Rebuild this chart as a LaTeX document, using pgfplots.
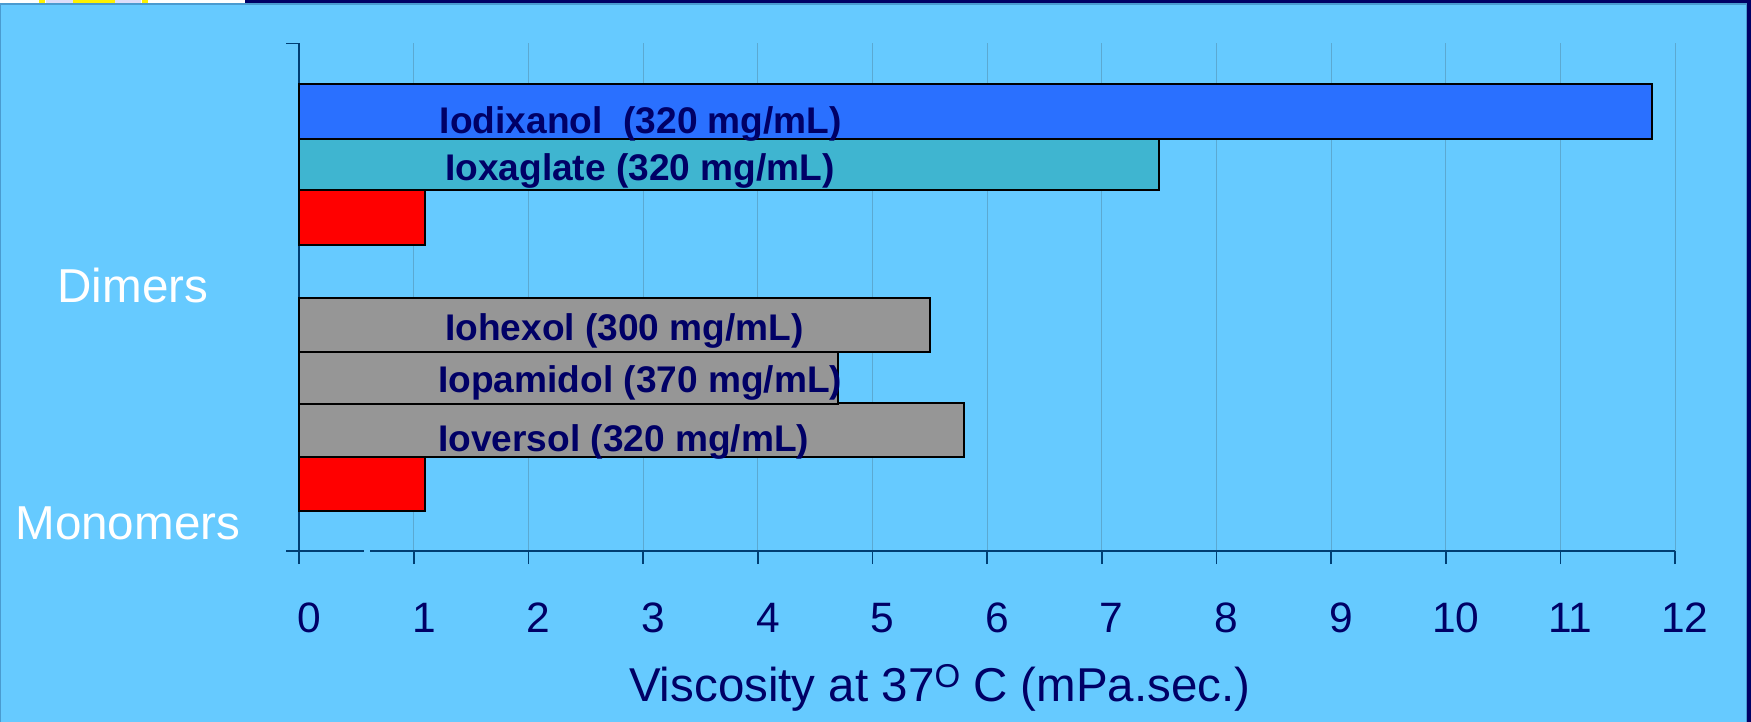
\documentclass[border=0pt]{standalone}
\usepackage{pgfplots}
\usepackage{fontspec}
\pgfplotsset{compat=1.18}
\setmainfont{Liberation Sans}
\definecolor{panel}{HTML}{66CAFF}
\definecolor{navy}{HTML}{000066}
\definecolor{axisline}{HTML}{003E73}
\definecolor{gridc}{HTML}{5BA9D2}
\definecolor{edge}{HTML}{4A9BD0}
\definecolor{iodix}{HTML}{2A70FF}
\definecolor{ioxa}{HTML}{3FB5D0}
\definecolor{monog}{HTML}{969696}
\definecolor{lavender}{HTML}{DDDDFA}
\newcommand{\sized}[1]{\fontsize{#1}{#1}\selectfont}
\begin{document}
\begin{tikzpicture}[x=1pt,y=1pt]
% slide panel and its top band
\fill[panel] (0,0) rectangle (1751,723);
\fill[navy] (0,719.5) rectangle (1751,723);
\fill[navy] (1747,0) rectangle (1751,723);
\draw[edge,line width=1.2pt] (0.6,0) -- (0.6,719) -- (1746.4,719) -- (1746.4,0);
% lower edge of the logo above the panel
\fill[white] (0,719.5) rectangle (245,723);
\fill[lavender] (46,719.5) rectangle (141,723);
\fill[yellow] (73,719.5) rectangle (115,723);
\fill[yellow] (39,719.5) rectangle (45,723);
\fill[yellow] (142,719.5) rectangle (148,723);
\begin{axis}[
  at={(299.3pt,172pt)}, anchor=origin,
  scale only axis, width=1375.7pt, height=507.5pt,
  xmin=0, xmax=12, ymin=0, ymax=507.5,
  clip=false,
  axis x line=bottom, axis y line=left,
  axis line style={axisline,line width=1.6pt,-},
  xtick={0,...,12},
  xmajorgrids,
  x grid style={gridc,line width=1pt},
  major tick style={axisline,line width=1.6pt},
  major tick length=13pt,
  tick align=outside,
  ytick={0,507.5}, yticklabels={,},
  extra y ticks={28,266},
  extra y tick labels={Monomers\hspace*{3pt},\hspace*{7pt}Dimers},
  extra y tick style={major tick length=0pt,
    yticklabel style={anchor=center,xshift=-170pt,text=white,font=\sized{47.6}}},
  xticklabel style={text=navy,font=\sized{42.5},text height=30.5pt,text depth=0pt,xshift=10pt,yshift=-34pt},
  /pgf/number format/assume math mode=true,
  xlabel={Viscosity at 37\raisebox{14pt}{\sized{33}O} C (mPa.sec.)},
  xlabel style={text=navy,font=\sized{47.5},anchor=center,at={(axis description cs:0.4656,-0.27)}},
  xbar, bar shift=0pt,
]
% monomers
\addplot[draw=black,line width=2pt,fill=red,bar width=54pt] coordinates {(1.1,66.8)};
\addplot[draw=black,line width=2pt,fill=monog,bar width=53.7pt] coordinates {(5.8,120.7)};
\addplot[draw=black,line width=2pt,fill=monog,bar width=51.7pt] coordinates {(4.7,173.3)};
\addplot[draw=black,line width=2pt,fill=monog,bar width=54pt] coordinates {(5.5,225.7)};
% dimers
\addplot[draw=black,line width=2pt,fill=red,bar width=54.7pt] coordinates {(1.1,333.6)};
\addplot[draw=black,line width=2pt,fill=ioxa,bar width=51.3pt] coordinates {(7.5,386.6)};
\addplot[draw=black,line width=2pt,fill=iodix,bar width=54.2pt] coordinates {(11.8,439.4)};
% compound names
\begin{scope}[every node/.style={anchor=west,text=navy,font=\sized{37.1}\bfseries,inner sep=0pt}]
\node at (axis cs:1.225,427.5) {Iodixanol\ \ (320 mg/mL)};
\node at (axis cs:1.27,380.5) {Ioxaglate (320 mg/mL)};
\node at (axis cs:1.27,220.5) {Iohexol (300 mg/mL)};
\node at (axis cs:1.21,168) {Iopamidol (370 mg/mL)};
\node at (axis cs:1.21,109) {Ioversol (320 mg/mL)};
\end{scope}
% short break in the horizontal axis line
\fill[panel] (axis cs:0.565,-1.5) rectangle (axis cs:0.62,1.5);
\end{axis}
\pgfresetboundingbox
\useasboundingbox (0,1.8) rectangle (1751,723);
\end{tikzpicture}
\end{document}
